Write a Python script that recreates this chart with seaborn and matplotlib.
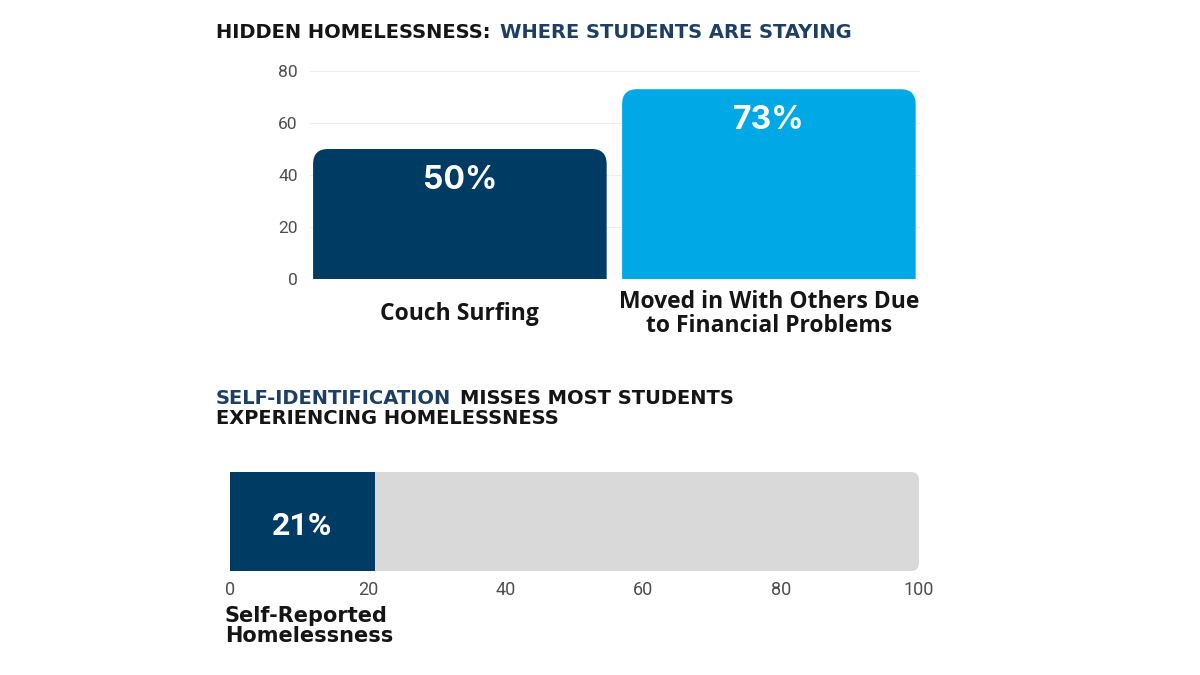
import matplotlib
matplotlib.use('Agg')
import matplotlib.pyplot as plt
import seaborn as sns
import pandas as pd
from matplotlib.patches import FancyBboxPatch

# --- data ---
stay_labels = ['Couch Surfing', 'Moved in With Others Due\nto Financial Problems']
stay_values = [50, 73]
stay_ticks = [0, 20, 40, 60, 80]

self_label = ['Self-Reported\nHomelessness']
self_values = [21]
self_total = [100]
self_ticks = [0, 20, 40, 60, 80, 100]

NAVY = '#003b64'
BLUE = '#00a9e6'
GRAY = '#d9d9d9'
TITLE_NAVY = '#1d3f63'
INK = '#151515'
TICK = '#4d4d4d'

sns.set_theme(style='white')
plt.rcParams['font.family'] = ['Roboto', 'DejaVu Sans']

W, H = 1200, 675
fig = plt.figure(figsize=(12, 6.75), dpi=100)
fig.patch.set_facecolor('white')


def px(l, t, r, b):
    return [l / W, 1 - b / H, (r - l) / W, (b - t) / H]


# --- titles, coloured parts side by side ---
renderer = fig.canvas.get_renderer()


def title_line(x, y, parts, size=14):
    for text, color in parts:
        t = fig.text(x / W, 1 - y / H, text, color=color, fontsize=size,
                     fontweight='bold', family='DejaVu Sans',
                     va='center', ha='left')
        x += t.get_window_extent(renderer).width + 9


title_line(216, 32, [('HIDDEN HOMELESSNESS:', INK),
                     ('WHERE STUDENTS ARE STAYING', TITLE_NAVY)])
title_line(216, 398, [('SELF-IDENTIFICATION', TITLE_NAVY),
                      ('MISSES MOST STUDENTS', INK)])
title_line(216, 418, [('EXPERIENCING HOMELESSNESS', INK)])

# --- top chart: where students are staying ---
ax1 = fig.add_axes(px(310, 71, 920, 279))
df1 = pd.DataFrame({'where': stay_labels, 'pct': stay_values})
sns.barplot(data=df1, x='where', y='pct', hue='where', saturation=1,
            palette=[NAVY, BLUE], width=0.95, legend=False, ax=ax1)
ax1.set_xlim(-0.485, 1.489)
ax1.set_ylim(0, 80)

# swap plain bars for ones with rounded tops
rx = 15 / 309
ry = 15 / 2.6
for p in list(ax1.patches):
    x, w, h = p.get_x(), p.get_width(), p.get_height()
    box = FancyBboxPatch((x, -ry), w, h + ry,
                         boxstyle=f'round,pad=0,rounding_size={rx}',
                         mutation_aspect=ry / rx,
                         fc=p.get_facecolor(), ec='none', zorder=2)
    ax1.add_patch(box)
    p.remove()
    ax1.text(x + w / 2, h - 12, f'{h:.0f}%', color='white',
             fontsize=23, fontweight='bold', family=['Inter', 'DejaVu Sans'],
             ha='center', va='center', zorder=3)

ax1.set_yticks(stay_ticks)
ax1.yaxis.grid(True, color='#ededed', lw=0.8)
ax1.set_axisbelow(True)
sns.despine(ax=ax1, left=True, bottom=True)
ax1.set_xlabel('')
ax1.set_ylabel('')
ax1.tick_params(axis='y', length=0, pad=9, labelsize=12.5, labelcolor=TICK)
ax1.tick_params(axis='x', length=0, pad=25)
for lab in ax1.get_xticklabels():
    lab.set_fontsize(16.5)
    lab.set_fontweight('bold')
    lab.set_family(['Open Sans', 'DejaVu Sans'])
    lab.set_color(INK)
    lab.set_va('center')
    lab.set_linespacing(1.0)

# --- bottom chart: self-identification ---
ax2 = fig.add_axes(px(230, 472, 919, 571))
sns.barplot(x=self_total, y=self_label, color=GRAY, width=1, orient='h',
            saturation=1, linewidth=0, edgecolor='none', ax=ax2)
sns.barplot(x=self_values, y=self_label, color=NAVY, width=1, orient='h',
            saturation=1, linewidth=0, edgecolor='none', ax=ax2)
ax2.set_xlim(0, 100)
ax2.set_ylim(0.5, -0.5)

gray_bar = ax2.patches[0]
rx2 = 8 / 6.89
ry2 = 8 / 99
gx, gy, gw, gh = gray_bar.get_x(), gray_bar.get_y(), gray_bar.get_width(), gray_bar.get_height()
ax2.add_patch(FancyBboxPatch((gx - rx2, gy), gw + rx2, gh,
                             boxstyle=f'round,pad=0,rounding_size={rx2}',
                             mutation_aspect=ry2 / rx2,
                             fc=GRAY, ec='none', zorder=0.5))
gray_bar.remove()
ax2.patches[0].set_zorder(1)

ax2.text(self_values[0] / 2, 0.05, f'{self_values[0]}%', color='white',
         fontsize=23, fontweight='bold', ha='center', va='center', zorder=3)

ax2.set_xticks(self_ticks)
sns.despine(ax=ax2, left=True, bottom=True)
ax2.set_xlabel('')
ax2.set_ylabel('')
ax2.tick_params(axis='x', length=0, pad=7, labelsize=13, labelcolor=TICK)
ax2.tick_params(axis='y', left=False, labelleft=False)

fig.text(225 / W, 1 - 606 / H, self_label[0], color=INK, fontsize=15,
         fontweight='bold', family='DejaVu Sans', ha='left', va='top',
         linespacing=1.0)

fig.savefig('out.png', dpi=100, facecolor='white')
